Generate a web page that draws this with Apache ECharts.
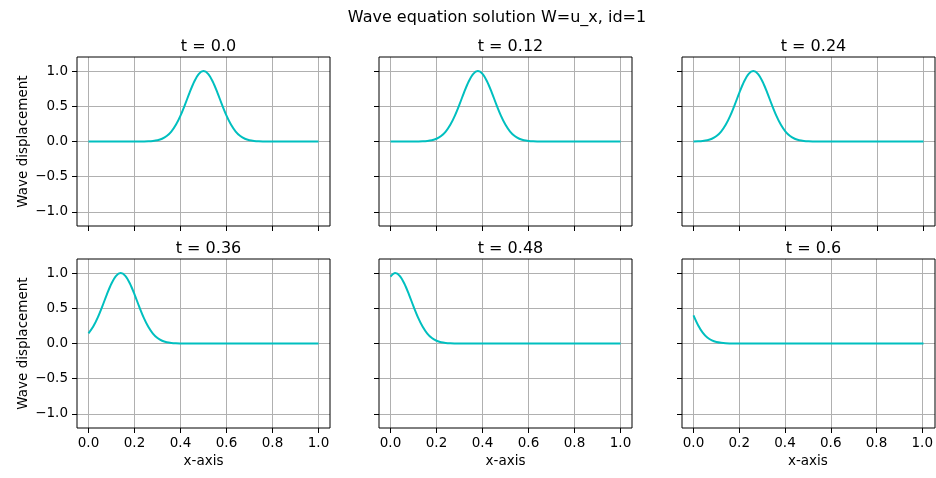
<!DOCTYPE html>
<html>
<head>
<meta charset="utf-8">
<script src="https://cdn.jsdelivr.net/npm/echarts@6/dist/echarts.min.js"></script>
<style>
  html, body { margin: 0; padding: 0; background: #fff; }
  #chart { width: 936px; height: 478px; }
</style>
</head>
<body>
<div id="chart"></div>
<script>
// sample positions along x
var xs = [0, 0.02, 0.04, 0.06, 0.08, 0.1, 0.12, 0.14, 0.16, 0.18,
  0.2, 0.22, 0.24, 0.26, 0.28, 0.3, 0.32, 0.34, 0.36, 0.38,
  0.4, 0.42, 0.44, 0.46, 0.48, 0.5, 0.52, 0.54, 0.56, 0.58,
  0.6, 0.62, 0.64, 0.66, 0.68, 0.7, 0.72, 0.74, 0.76, 0.78,
  0.8, 0.82, 0.84, 0.86, 0.88, 0.9, 0.92, 0.94, 0.96, 0.98, 1.0];

var panelTitles = ['t = 0.0', 't = 0.12', 't = 0.24', 't = 0.36', 't = 0.48', 't = 0.6'];

var w_t000 = [0, 0, 0, 0, 0, 0, 0, 0, 0, 0, 0, 0,
  0.001, 0.003, 0.008, 0.018, 0.039, 0.077, 0.141, 0.237, 0.368, 0.527, 0.698, 0.852, 0.961,
  1.0,
  0.961, 0.852, 0.698, 0.527, 0.368, 0.237, 0.141, 0.077, 0.039, 0.018, 0.008, 0.003, 0.001,
  0, 0, 0, 0, 0, 0, 0, 0, 0, 0, 0, 0];
var w_t012 = [0, 0, 0, 0, 0, 0,
  0.001, 0.003, 0.008, 0.018, 0.039, 0.077, 0.141, 0.237, 0.368, 0.527, 0.698, 0.852, 0.961,
  1.0,
  0.961, 0.852, 0.698, 0.527, 0.368, 0.237, 0.141, 0.077, 0.039, 0.018, 0.008, 0.003, 0.001,
  0, 0, 0, 0, 0, 0, 0, 0, 0, 0, 0, 0, 0, 0, 0, 0, 0, 0];
var w_t024 = [0.001, 0.003, 0.008, 0.018, 0.039, 0.077, 0.141, 0.237, 0.368, 0.527, 0.698, 0.852, 0.961,
  1.0,
  0.961, 0.852, 0.698, 0.527, 0.368, 0.237, 0.141, 0.077, 0.039, 0.018, 0.008, 0.003, 0.001,
  0, 0, 0, 0, 0, 0, 0, 0, 0, 0, 0, 0, 0, 0, 0, 0, 0, 0, 0, 0, 0, 0, 0, 0];
var w_t036 = [0.145, 0.237, 0.368, 0.527, 0.698, 0.852, 0.961,
  1.0,
  0.961, 0.852, 0.698, 0.527, 0.368, 0.237, 0.141, 0.077, 0.039, 0.018, 0.008, 0.003, 0.001,
  0, 0, 0, 0, 0, 0, 0, 0, 0, 0, 0, 0, 0, 0, 0, 0, 0, 0, 0, 0,
  0, 0, 0, 0, 0, 0, 0, 0, 0, 0];
var w_t048 = [0.95, 1.0,
  0.961, 0.852, 0.698, 0.527, 0.368, 0.237, 0.141, 0.077, 0.039, 0.018, 0.008, 0.003, 0.001,
  0, 0, 0, 0, 0, 0, 0, 0, 0, 0, 0, 0, 0, 0, 0, 0, 0, 0, 0, 0,
  0, 0, 0, 0, 0, 0, 0, 0, 0, 0, 0, 0, 0, 0, 0, 0];
var w_t060 = [0.40, 0.26, 0.155, 0.085, 0.043, 0.02, 0.009, 0.003, 0.001,
  0, 0, 0, 0, 0, 0, 0, 0, 0, 0, 0, 0, 0, 0, 0, 0, 0, 0, 0, 0,
  0, 0, 0, 0, 0, 0, 0, 0, 0, 0, 0, 0, 0, 0, 0, 0, 0, 0, 0, 0, 0, 0];

var panelValues = [w_t000, w_t012, w_t024, w_t036, w_t048, w_t060];

// axis ranges (view limits) and tick ranges
var xView = [-0.05, 1.05], xTickRange = [0, 1], xStep = 0.2;
var yView = [-1.2, 1.2], yTickRange = [-1, 1], yStep = 0.5;

var FONT = 'DejaVu Sans';
var colLeft = [77, 379, 682];
var rowTop = [57, 259];
var boxW = 253, boxH = 169;

function fmt(v) {
  return v.toFixed(1).replace('-', '\u2212');
}

var myChart = echarts.init(document.getElementById('chart'));

var titles = [{
  text: 'Wave equation solution W=u_x, id=1',
  left: 492, top: 5, textAlign: 'center',
  textStyle: { fontFamily: FONT, fontSize: 16, fontWeight: 'normal', color: '#000' }
}];
var grids = [], xAxes = [], yAxes = [], series = [];

// pixel inset of the tick range inside the view range
var xPadL = boxW * (xTickRange[0] - xView[0]) / (xView[1] - xView[0]);
var xPadR = boxW * (xView[1] - xTickRange[1]) / (xView[1] - xView[0]);
var yPadT = boxH * (yView[1] - yTickRange[1]) / (yView[1] - yView[0]);
var yPadB = boxH * (yTickRange[0] - yView[0]) / (yView[1] - yView[0]);

var labelStyle = { fontFamily: FONT, fontSize: 13.5, color: '#000' };

for (var p = 0; p < 6; p++) {
  var row = Math.floor(p / 3), col = p % 3;
  var pLeft = colLeft[col], pTop = rowTop[row];
  var g = grids.length;

  titles.push({
    text: panelTitles[p],
    left: pLeft + boxW / 2, top: pTop - 23, textAlign: 'center',
    textStyle: { fontFamily: FONT, fontSize: 16, fontWeight: 'normal', color: '#000' }
  });

  // data grid: full box, draws the frame
  grids.push({
    left: pLeft, top: pTop, width: boxW, height: boxH,
    show: true, borderColor: '#000', borderWidth: 1, backgroundColor: 'transparent', z: 3
  });
  xAxes.push({ type: 'value', gridIndex: g, min: xView[0], max: xView[1], show: false });
  yAxes.push({ type: 'value', gridIndex: g, min: yView[0], max: yView[1], show: false });

  // x ticks / vertical grid lines
  grids.push({ left: pLeft + xPadL, top: pTop, width: boxW - xPadL - xPadR, height: boxH });
  xAxes.push({
    type: 'value', gridIndex: g + 1, min: xTickRange[0], max: xTickRange[1], interval: xStep,
    name: row === 1 ? 'x-axis' : '',
    nameLocation: 'middle', nameGap: 26, nameTextStyle: labelStyle,
    axisLine: { show: false },
    axisTick: { show: true, length: 5, lineStyle: { color: '#000' } },
    axisLabel: Object.assign({ show: row === 1, margin: 8, formatter: fmt }, labelStyle),
    splitLine: { show: true, lineStyle: { color: '#b0b0b0', width: 1 } }
  });
  yAxes.push({ type: 'value', gridIndex: g + 1, min: 0, max: 1, show: false });

  // y ticks / horizontal grid lines
  grids.push({ left: pLeft, top: pTop + yPadT, width: boxW, height: boxH - yPadT - yPadB });
  xAxes.push({ type: 'value', gridIndex: g + 2, min: 0, max: 1, show: false });
  yAxes.push({
    type: 'value', gridIndex: g + 2, min: yTickRange[0], max: yTickRange[1], interval: yStep,
    name: col === 0 ? 'Wave displacement' : '',
    nameLocation: 'middle', nameGap: 47, nameTextStyle: labelStyle,
    axisLine: { show: false },
    axisTick: { show: true, length: 5, lineStyle: { color: '#000' } },
    axisLabel: Object.assign({ show: col === 0, margin: 9, formatter: fmt }, labelStyle),
    splitLine: { show: true, lineStyle: { color: '#b0b0b0', width: 1 } }
  });

  series.push({
    type: 'line', xAxisIndex: g, yAxisIndex: g,
    data: xs.map(function (x, i) { return [x, panelValues[p][i]]; }),
    showSymbol: false, smooth: 0.3,
    lineStyle: { color: '#00bfbf', width: 2 },
    silent: true, z: 4
  });
}

myChart.setOption({
  animation: false,
  title: titles,
  grid: grids,
  xAxis: xAxes,
  yAxis: yAxes,
  series: series
});
</script>
</body>
</html>
